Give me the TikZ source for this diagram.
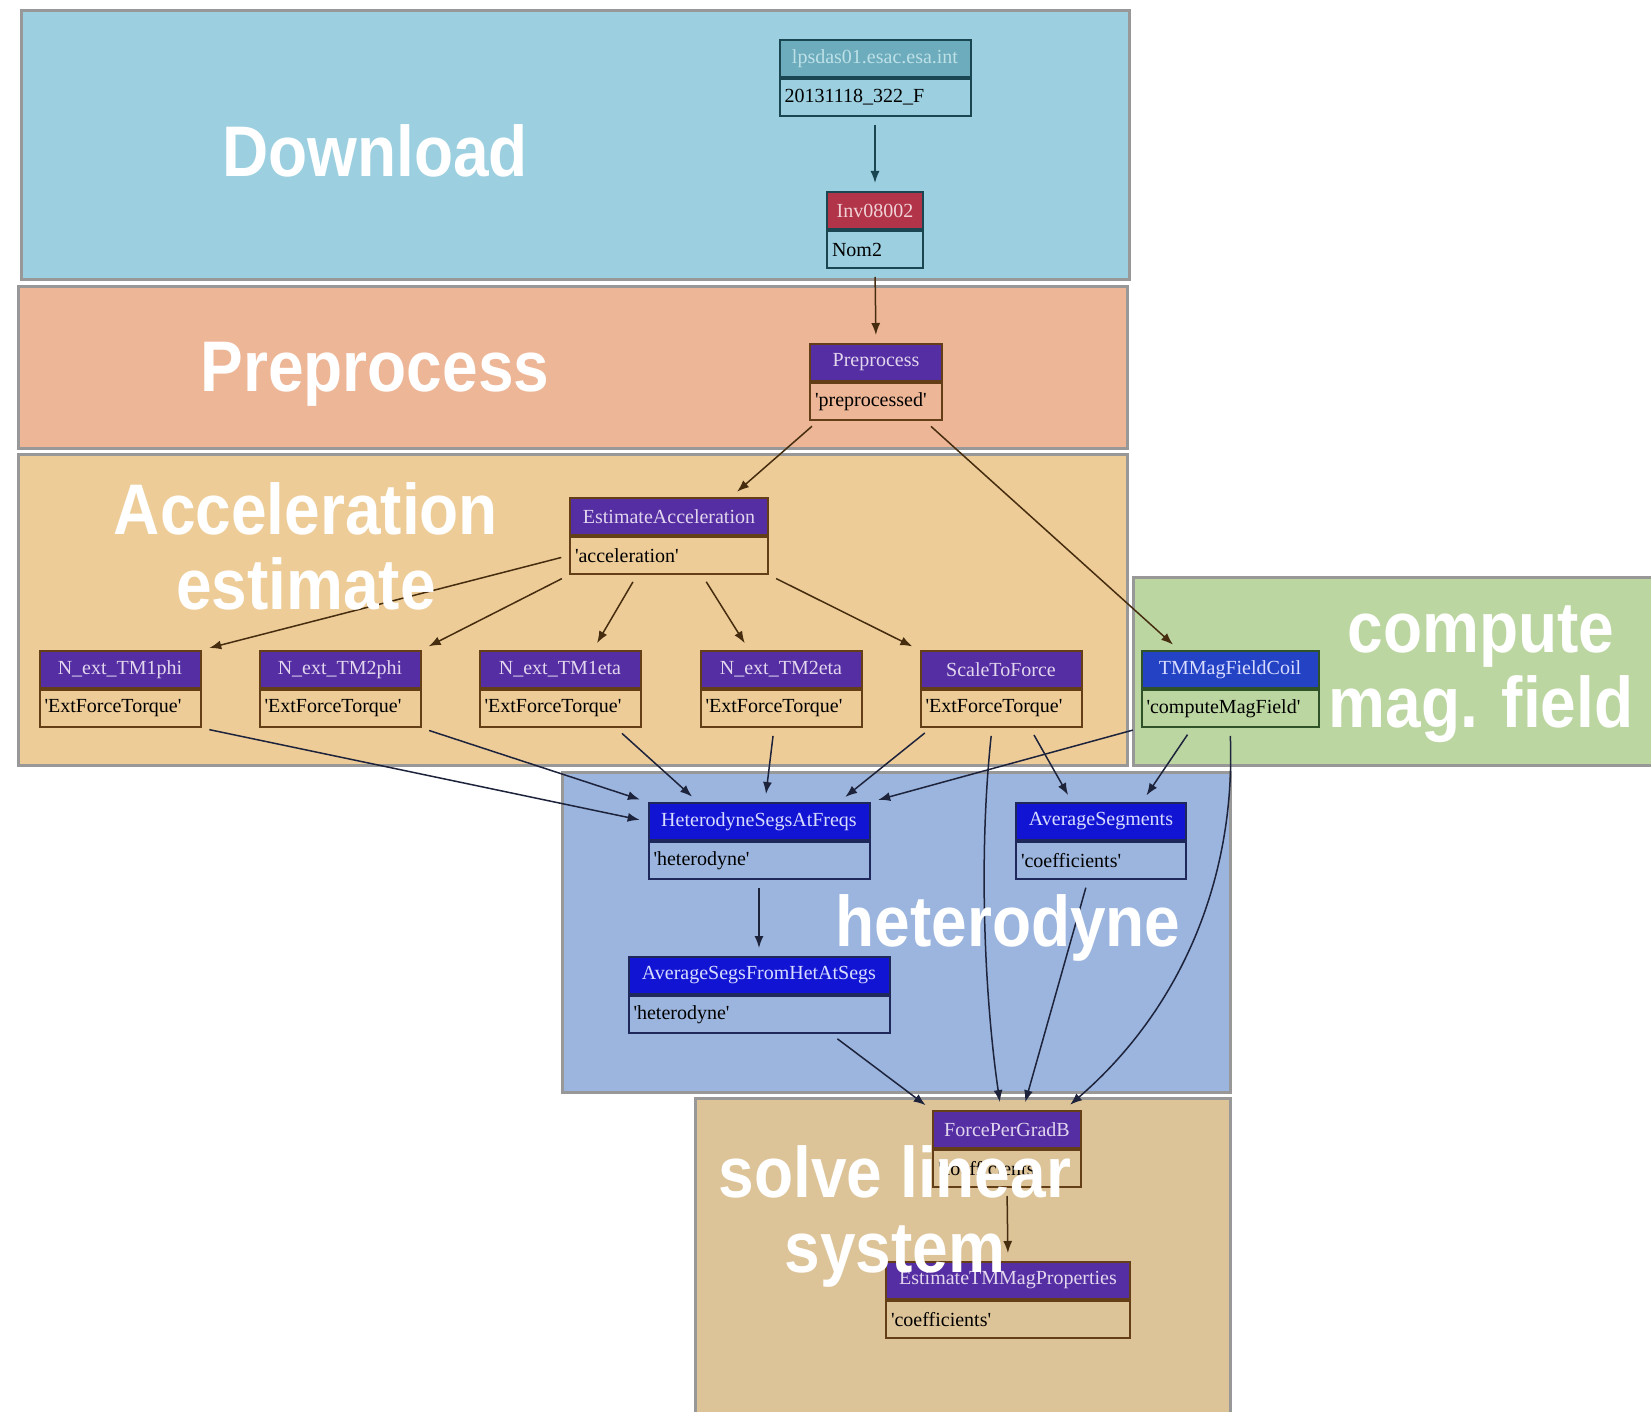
\documentclass[tikz,border=0pt]{standalone}
\usepackage{fontspec}
\setmainfont{Liberation Serif}
\newfontfamily\labelfont{Liberation Sans}
\usepackage{graphicx}
\usetikzlibrary{positioning,arrows.meta}

\definecolor{downloadbg}{RGB}{156,208,224}
\definecolor{preprocbg}{RGB}{237,182,150}
\definecolor{accelbg}{RGB}{237,204,152}
\definecolor{magbg}{RGB}{188,214,162}
\definecolor{hetbg}{RGB}{155,181,222}
\definecolor{solvebg}{RGB}{221,195,152}
\definecolor{clusterline}{RGB}{152,152,152}
\definecolor{tealline}{RGB}{25,70,80}
\definecolor{tealhead}{RGB}{108,172,188}
\definecolor{tealtext}{RGB}{190,225,232}
\definecolor{redhead}{RGB}{178,52,72}
\definecolor{redtext}{RGB}{240,210,215}
\definecolor{purplehead}{RGB}{84,46,162}
\definecolor{purpletext}{RGB}{226,214,238}
\definecolor{brownline}{RGB}{100,62,22}
\definecolor{bluehead}{RGB}{36,66,196}
\definecolor{greenline}{RGB}{48,82,40}
\definecolor{deepblue}{RGB}{18,20,212}
\definecolor{bluetext}{RGB}{215,220,255}
\definecolor{navyline}{RGB}{30,40,90}
\definecolor{edgebrown}{RGB}{70,45,15}
\definecolor{edgedark}{RGB}{30,35,60}

\newcommand{\bigtxt}[1]{\scalebox{1}[1.12]{#1}}
\newcommand{\quoted}[1]{\textquotesingle#1\textquotesingle}

\tikzset{
  cluster/.style={draw=clusterline,line width=1.5pt},
  head/.style={draw,line width=1pt,minimum height=18.5pt,inner xsep=2.5pt,inner ysep=0pt,font=\fontsize{10}{12}\selectfont},
  body/.style={draw,line width=1pt,minimum height=18.5pt,inner xsep=2.5pt,inner ysep=0pt,align=left,font=\fontsize{10}{12}\selectfont,below=0pt of #1},
  tealhd/.style={head,fill=tealhead,draw=tealline,text=tealtext},
  redhd/.style={head,fill=redhead,draw=tealline,text=redtext},
  purplehd/.style={head,fill=purplehead,draw=brownline,text=purpletext},
  coilhd/.style={head,fill=bluehead,draw=greenline,text=bluetext},
  bluehd/.style={head,fill=deepblue,draw=navyline,text=bluetext},
  flow/.style={-{Latex[length=6pt,width=4.5pt]},line width=0.75pt,shorten <=4pt,shorten >=4pt,color=edgedark},
  biglabel/.style={anchor=base,text=white,align=center,inner sep=0pt,font=\labelfont\bfseries\fontsize{32}{37.5}\selectfont}
}

\begin{document}
\begin{tikzpicture}[x=0.5pt,y=-0.5pt]
\useasboundingbox (0,0) rectangle (1651,1412);
\clip (0,0) rectangle (1651,1412);

\draw [cluster,fill=downloadbg] (21,11) rectangle (1129,280);
\draw [cluster,fill=preprocbg] (18,287) rectangle (1127,449);
\draw [cluster,fill=accelbg] (18,455) rectangle (1127,765);
\draw [cluster,fill=magbg] (1133,577) rectangle (1680,765);
\draw [cluster,fill=hetbg] (562,772) rectangle (1230,1092);
\draw [cluster,fill=solvebg] (695,1098) rectangle (1230,1440);

\node (lpsH) at (875,39) [tealhd,anchor=north,minimum width=95.5pt] {lpsdas01.esac.esa.int};
\node (lpsB) [body=lpsH,draw=tealline,text width=90.5pt] {20131118\_322\_F};
\node (invH) at (875,191) [redhd,anchor=north,minimum width=48pt] {Inv08002};
\node (invB) [body=invH,draw=tealline,text width=43pt] {Nom2};

\node (preH) at (876,343) [purplehd,anchor=north,minimum width=66pt] {Preprocess};
\node (preB) [body=preH,draw=brownline,text width=61pt] {\quoted{preprocessed}};

\node (accH) at (669,497) [purplehd,anchor=north,minimum width=99pt] {EstimateAcceleration};
\node (accB) [body=accH,draw=brownline,text width=94pt] {\quoted{acceleration}};
\node (tm1phiH) at (120,650) [purplehd,anchor=north,minimum width=80.5pt] {N\_ext\_TM1phi};
\node (tm1phiB) [body=tm1phiH,draw=brownline,text width=75.5pt] {\quoted{ExtForceTorque}};
\node (tm2phiH) at (340,650) [purplehd,anchor=north,minimum width=80.5pt] {N\_ext\_TM2phi};
\node (tm2phiB) [body=tm2phiH,draw=brownline,text width=75.5pt] {\quoted{ExtForceTorque}};
\node (tm1etaH) at (560,650) [purplehd,anchor=north,minimum width=80.5pt] {N\_ext\_TM1eta};
\node (tm1etaB) [body=tm1etaH,draw=brownline,text width=75.5pt] {\quoted{ExtForceTorque}};
\node (tm2etaH) at (781,650) [purplehd,anchor=north,minimum width=80.5pt] {N\_ext\_TM2eta};
\node (tm2etaB) [body=tm2etaH,draw=brownline,text width=75.5pt] {\quoted{ExtForceTorque}};
\node (scaleH) at (1001,650) [purplehd,anchor=north,minimum width=80.5pt] {ScaleToForce};
\node (scaleB) [body=scaleH,draw=brownline,text width=75.5pt] {\quoted{ExtForceTorque}};

\node (coilH) at (1230,650) [coilhd,anchor=north,minimum width=88.5pt] {TMMagFieldCoil};
\node (coilB) [body=coilH,draw=greenline,text width=83.5pt] {\quoted{computeMagField}};

\node (hetH) at (759,802) [bluehd,anchor=north,minimum width=110.5pt] {HeterodyneSegsAtFreqs};
\node (hetB) [body=hetH,draw=navyline,text width=105.5pt] {\quoted{heterodyne}};
\node (avgH) at (1101,802) [bluehd,anchor=north,minimum width=85pt] {AverageSegments};
\node (avgB) [body=avgH,draw=navyline,text width=80pt] {\quoted{coefficients}};
\node (avgfromH) at (759,956) [bluehd,anchor=north,minimum width=130.5pt] {AverageSegsFromHetAtSegs};
\node (avgfromB) [body=avgfromH,draw=navyline,text width=125.5pt] {\quoted{heterodyne}};

\node (forceH) at (1007,1110) [purplehd,anchor=north,minimum width=74pt] {ForcePerGradB};
\node (forceB) [body=forceH,draw=brownline,text width=69pt] {\quoted{coefficients}};
\node (estH) at (1008,1261) [purplehd,anchor=north,minimum width=122pt] {EstimateTMMagProperties};
\node (estB) [body=estH,draw=brownline,text width=117pt] {\quoted{coefficients}};

\draw [flow,color=tealline] (lpsB.south) -- (invH.north);
\draw [flow,color=edgebrown] (invB.south) -- (preH.north);
\draw [flow,color=edgebrown] ([xshift=-29pt]preB.south) -- ([xshift=31pt]accH.north);
\draw [flow,color=edgebrown] ([xshift=24.5pt]preB.south) -- ([xshift=-25.5pt]coilH.north);
\draw [flow,color=edgebrown] (accB.west) -- (tm1phiH.north east);
\draw [flow,color=edgebrown] (accB.south west) -- (tm2phiH.north east);
\draw [flow,color=edgebrown] ([xshift=-16pt]accB.south) -- ([xshift=16.5pt]tm1etaH.north);
\draw [flow,color=edgebrown] ([xshift=16.5pt]accB.south) -- ([xshift=-16pt]tm2etaH.north);
\draw [flow,color=edgebrown] (accB.south east) -- (scaleH.north west);

\draw [flow] (tm1phiB.south east) -- (hetH.west);
\draw [flow] (tm2phiB.south east) -- (hetH.north west);
\draw [flow] ([xshift=28pt]tm1etaB.south) -- ([xshift=-30.5pt]hetH.north);
\draw [flow] ([xshift=-3.5pt]tm2etaB.south) -- ([xshift=3pt]hetH.north);
\draw [flow] ([xshift=-35pt]scaleB.south) -- ([xshift=40pt]hetH.north);
\draw [flow] (coilB.south west) -- (hetH.north east);
\draw [flow] ([xshift=14.5pt]scaleB.south) -- ([xshift=-14.5pt]avgH.north);
\draw [flow] ([xshift=-19pt]coilB.south) -- ([xshift=20.5pt]avgH.north);
\draw [flow] ([xshift=-4.5pt]scaleB.south) .. controls (978,860) and (985,1000) .. ([xshift=-3pt]forceH.north);
\draw [flow] (coilB.south) .. controls (1236,880) and (1180,1010) .. ([xshift=28.5pt]forceH.north);
\draw [flow] (hetB.south) -- (avgfromH.north);
\draw [flow] ([xshift=36pt]avgfromB.south) -- (forceH.north west);
\draw [flow] ([xshift=-6.5pt]avgB.south) -- ([xshift=8pt]forceH.north);
\draw [flow,color=edgebrown] (forceB.south) -- (estH.north);

\node (downloadlabel) at (375,177) [biglabel] {\bigtxt{Download}};
\node (preproclabel) at (375,392) [biglabel] {\bigtxt{Preprocess}};
\node (accellabel) at (306,610) [biglabel] {\bigtxt{Acceleration}\\\bigtxt{estimate}};
\node (maglabel) at (1481,727) [biglabel] {\bigtxt{compute}\\\bigtxt{mag. field}};
\node (hetlabel) at (1008,946) [biglabel] {\bigtxt{heterodyne}};
\node (solvelabel) at (895,1272) [biglabel] {\bigtxt{solve linear}\\\bigtxt{system}};
\end{tikzpicture}
\end{document}
